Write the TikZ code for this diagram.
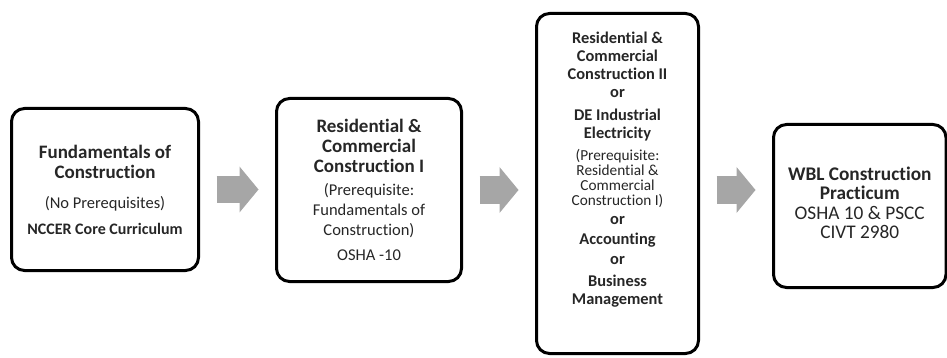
\documentclass[tikz,border=0pt]{standalone}
\usepackage{fontspec}
\setmainfont{Carlito}[Ligatures=NoCommon]
\usetikzlibrary{arrows.meta}
\definecolor{arrowgray}{HTML}{A6A6A6}
\definecolor{inkgray}{HTML}{262626}

\begin{document}
\begin{tikzpicture}[x=1pt,y=-1pt,
    stagebox/.style={draw,line width=3pt,rounded corners=13pt,align=center,
      text=inkgray,inner sep=0pt},
    flowarrow/.style={draw=arrowgray,line width=27pt,
      -{Triangle[width=46pt,length=19pt,line width=0pt]},
      shorten <=16.5pt,shorten >=16.5pt}]
    % Font sizes
    \def\big{\bfseries\fontsize{19}{20}\selectfont}
    \def\sml{\mdseries\fontsize{16.5}{21}\selectfont}
    \def\mid{\bfseries\fontsize{16.4}{18}\selectfont}
    \def\tny{\mdseries\fontsize{15.3}{18}\selectfont}

    \useasboundingbox (0,0) rectangle (947,358);

    % Course boxes
    \node[stagebox,minimum width=187pt,minimum height=162pt,font=\big] (fund) at (105,189.5)
      {Fundamentals of\\ Construction\\[10pt]
       \sml (No Prerequisites)\\[6pt]
       \bfseries\fontsize{16}{20}\selectfont NCCER Core Curriculum};

    \node[stagebox,minimum width=185pt,minimum height=183pt,font=\big] (resi) at (369,190)
      {Residential \&\\ Commercial\\ Construction I\\[3pt]
       \sml (Prerequisite:\\ \sml Fundamentals of\\ \sml Construction)\\[5pt]
       \sml OSHA -10};

    \node[stagebox,minimum width=162pt,minimum height=340pt,font=\mid] (adv) at (617.5,183.5)
      {Residential \&\\ Commercial\\ Construction II\\
       or\\[5pt]
       DE Industrial\\ Electricity\\[4pt]
       \tny (Prerequisite:\\[-3pt] \tny Residential \&\\[-3pt] \tny Commercial\\[-3pt]
       \tny Construction I)\\[1pt]
       or\\[2pt]
       Accounting\\[2pt]
       or\\[4pt]
       Business\\ Management\\[12pt]\mbox{}};

    \node[stagebox,minimum width=172.5pt,minimum height=163pt,
      font=\bfseries\fontsize{19.3}{19.5}\selectfont] (wbl) at (859.75,206)
      {WBL Construction\\ Practicum\\
       \mdseries OSHA 10 \& PSCC\\ \mdseries CIVT 2980\\[-13pt]\mbox{}};

    % Arrows between the boxes
    \draw[flowarrow] (fund.east) -- (fund.east -| resi.west);
    \draw[flowarrow] (resi.east) -- (resi.east -| adv.west);
    \draw[flowarrow] (adv.east |- resi.east) -- (resi.east -| wbl.west);

\end{tikzpicture}
\end{document}
